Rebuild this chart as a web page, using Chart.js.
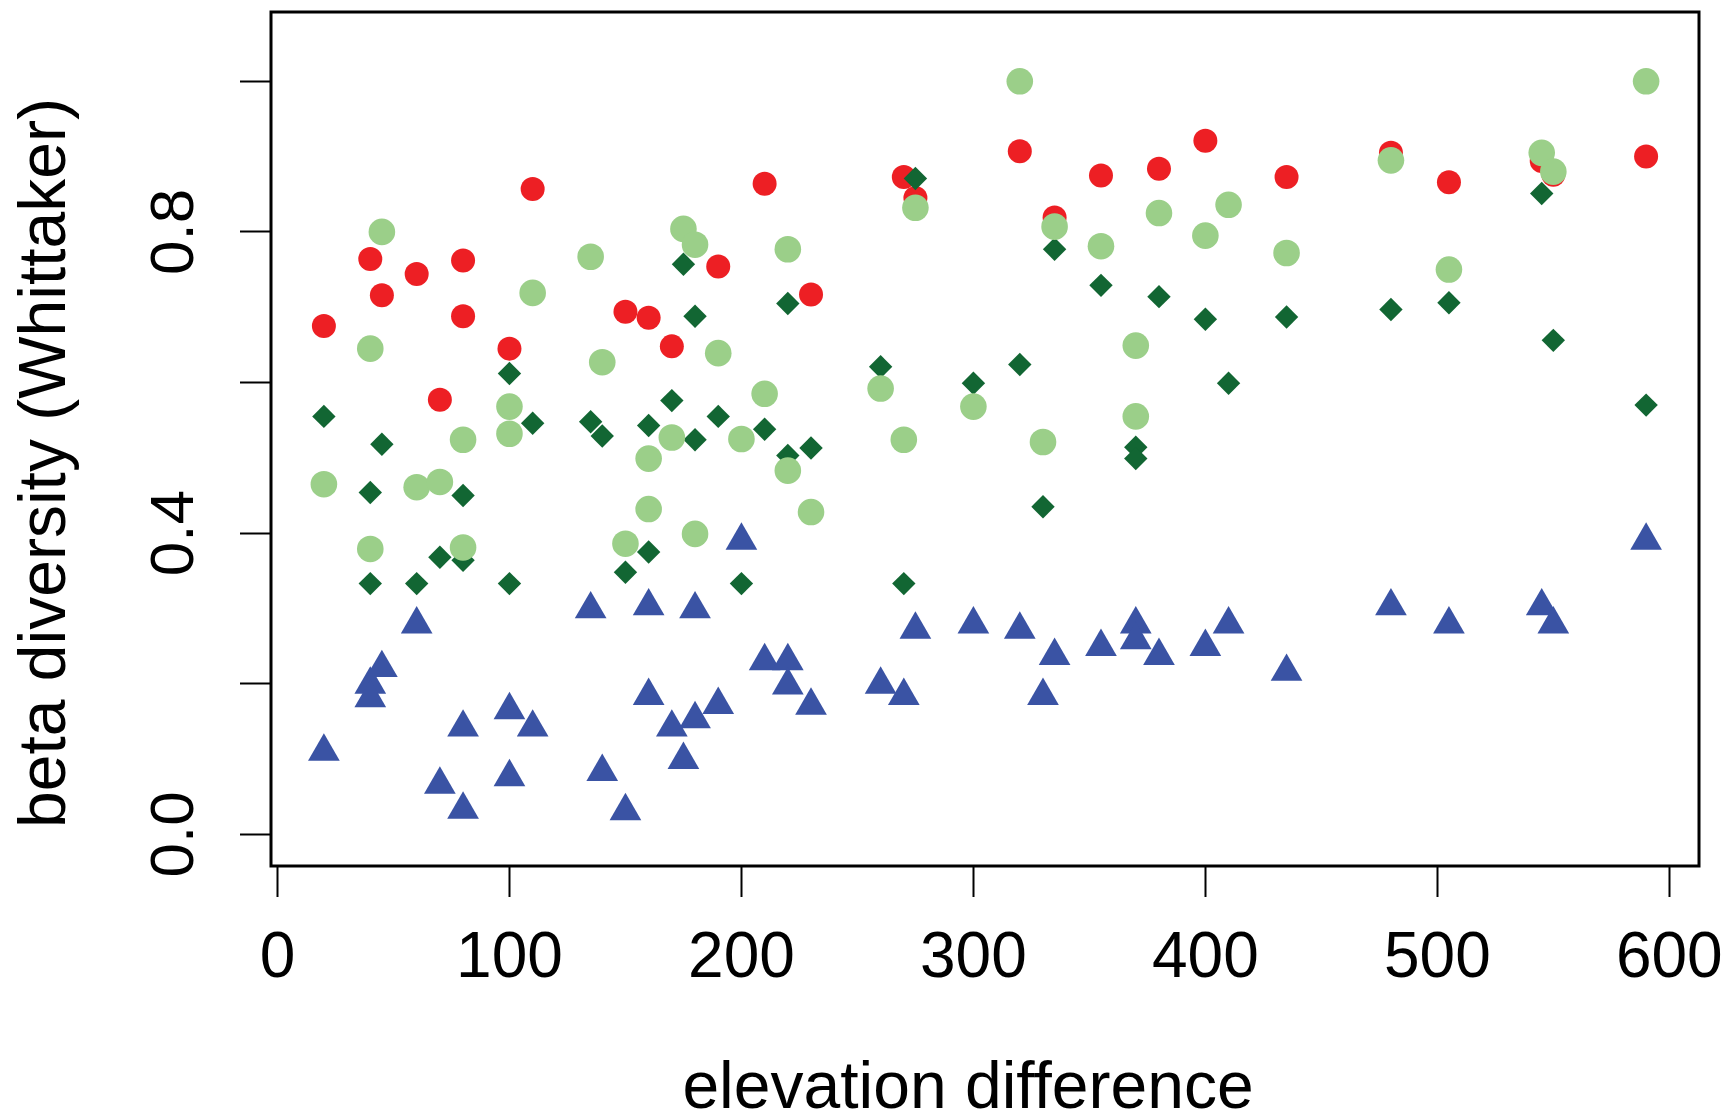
<!DOCTYPE html>
<html>
<head>
<meta charset="utf-8">
<script src="https://cdn.jsdelivr.net/npm/chart.js@4.4.1/dist/chart.umd.min.js"></script>
<style>
  html, body { margin: 0; padding: 0; background: #fff; }
  #wrap { width: 1729px; height: 1116px; }
</style>
</head>
<body>
<div id="wrap"><canvas id="chart" width="1729" height="1116"></canvas></div>
<script>
// elevation difference shared by the three complete series
const elevDiff = [20, 40, 40, 45, 60, 70, 80, 80, 100, 100, 110, 135, 140, 150, 160, 160, 170, 175, 180, 180,
  190, 200, 210, 220, 220, 230, 260, 270, 275, 300, 320, 330, 335, 355, 370, 370, 380, 400, 410, 435,
  480, 505, 545, 550, 590];

// red circles (partly hidden under the others, only the visible ones)
const redElev = [20, 40, 45, 60, 70, 80, 80, 100, 110, 150, 160, 170, 190, 210, 230, 270, 275, 320, 335, 355,
  380, 400, 435, 480, 505, 545, 550, 590];
const redBeta = [0.675, 0.764, 0.716, 0.744, 0.577, 0.762, 0.688, 0.645, 0.857, 0.694, 0.686, 0.648, 0.754, 0.864,
  0.717, 0.873, 0.845, 0.907, 0.819, 0.875, 0.884, 0.921, 0.873, 0.905, 0.866, 0.894, 0.876, 0.900];

const lightGreenBeta = [0.465, 0.645, 0.379, 0.800, 0.461, 0.468, 0.524, 0.381, 0.568, 0.532, 0.719, 0.767, 0.627,
  0.386, 0.499, 0.432, 0.527, 0.804, 0.783, 0.399, 0.639, 0.525, 0.585, 0.777, 0.483, 0.428, 0.592, 0.524,
  0.832, 0.568, 1.000, 0.521, 0.807, 0.781, 0.649, 0.555, 0.825, 0.795, 0.836, 0.772, 0.895, 0.750, 0.905,
  0.880, 1.000];

const darkGreenBeta = [0.555, 0.454, 0.333, 0.518, 0.333, 0.368, 0.450, 0.364, 0.612, 0.333, 0.546, 0.548, 0.529,
  0.348, 0.543, 0.375, 0.576, 0.757, 0.688, 0.524, 0.555, 0.333, 0.538, 0.705, 0.503, 0.513, 0.621, 0.333,
  0.871, 0.599, 0.624, 0.435, 0.777, 0.729, 0.514, 0.499, 0.714, 0.684, 0.599, 0.687, 0.697, 0.706, 0.851,
  0.656, 0.570];

const blueBeta = [0.110, 0.199, 0.181, 0.221, 0.279, 0.066, 0.142, 0.033, 0.165, 0.076, 0.142, 0.299, 0.083,
  0.031, 0.303, 0.184, 0.142, 0.099, 0.299, 0.153, 0.172, 0.390, 0.230, 0.230, 0.198, 0.171, 0.199, 0.184,
  0.272, 0.279, 0.272, 0.184, 0.237, 0.249, 0.279, 0.258, 0.237, 0.249, 0.279, 0.216, 0.303, 0.279, 0.303,
  0.279, 0.390];

// only every other y tick gets a label, like R does here
const yLabelValues = [0, 0.4, 0.8];
const yLabelText = ["0.0", "0.4", "0.8"];

const xTitle = "elevation difference";
const yTitle = "beta diversity (Whittaker)";

const FONT = '"Liberation Sans", Arial, sans-serif';

function toPoints(xs, ys) {
  return xs.map((x, i) => ({ x: x, y: ys[i] }));
}

// box, rotated y labels and axis titles, R style
const rStyle = {
  id: "rStyle",
  afterDraw(chart) {
    const ctx = chart.ctx;
    const a = chart.chartArea;
    const yScale = chart.scales.y;

    ctx.save();
    ctx.strokeStyle = "#000";
    ctx.lineWidth = 3;
    ctx.strokeRect(a.left, a.top, a.right - a.left, a.bottom - a.top);

    ctx.fillStyle = "#000";
    ctx.textAlign = "center";
    ctx.textBaseline = "alphabetic";

    ctx.font = "62px " + FONT;
    yLabelValues.forEach((v, i) => {
      const py = yScale.getPixelForValue(v);
      ctx.save();
      ctx.translate(193, py);
      ctx.rotate(-Math.PI / 2);
      ctx.fillText(yLabelText[i], 0, 0);
      ctx.restore();
    });

    ctx.font = "66px " + FONT;
    ctx.fillText(xTitle, 968, 1108);

    ctx.save();
    ctx.translate(65, 463);
    ctx.rotate(-Math.PI / 2);
    ctx.fillText(yTitle, 0, 0);
    ctx.restore();

    ctx.restore();
  }
};

new Chart(document.getElementById("chart"), {
  type: "scatter",
  data: {
    datasets: [
      {
        label: "blue",
        data: toPoints(elevDiff, blueBeta),
        pointStyle: "triangle",
        pointRadius: 18.3,
        backgroundColor: "#3A53A4",
        borderWidth: 0,
        order: 1
      },
      {
        label: "light green",
        data: toPoints(elevDiff, lightGreenBeta),
        pointStyle: "circle",
        pointRadius: 13.3,
        backgroundColor: "#9BCF89",
        borderWidth: 0,
        order: 2
      },
      {
        label: "dark green",
        data: toPoints(elevDiff, darkGreenBeta),
        pointStyle: "rectRot",
        pointRadius: 11.7,
        backgroundColor: "#126633",
        borderWidth: 0,
        order: 3
      },
      {
        label: "red",
        data: toPoints(redElev, redBeta),
        pointStyle: "circle",
        pointRadius: 12,
        backgroundColor: "#ED1F24",
        borderWidth: 0,
        order: 4
      }
    ]
  },
  options: {
    responsive: false,
    animation: false,
    devicePixelRatio: 1,
    layout: { autoPadding: false, padding: { top: 12, right: 30, bottom: 0, left: 0 } },
    plugins: {
      legend: { display: false },
      tooltip: { enabled: false }
    },
    scales: {
      x: {
        type: "linear",
        min: -2.8,
        max: 612.8,
        border: { display: false },
        grid: { drawOnChartArea: false, drawTicks: true, tickLength: 31, tickWidth: 2, tickColor: "#000" },
        ticks: {
          stepSize: 100,
          includeBounds: false,
          color: "#000",
          padding: 24,
          font: { family: FONT, size: 64 },
          maxRotation: 0
        },
        afterFit(scale) {
          scale.height = 250;
          scale.paddingLeft = 0;
          scale.paddingRight = 0;
        }
      },
      y: {
        type: "linear",
        min: -0.042,
        max: 1.092,
        border: { display: false },
        grid: { drawOnChartArea: false, drawTicks: true, tickLength: 31, tickWidth: 2, tickColor: "#000" },
        ticks: {
          stepSize: 0.2,
          includeBounds: false,
          callback: () => ""
        },
        afterFit(scale) {
          scale.width = 271;
          scale.paddingTop = 0;
          scale.paddingBottom = 0;
        }
      }
    }
  },
  plugins: [rStyle]
});
</script>
</body>
</html>
